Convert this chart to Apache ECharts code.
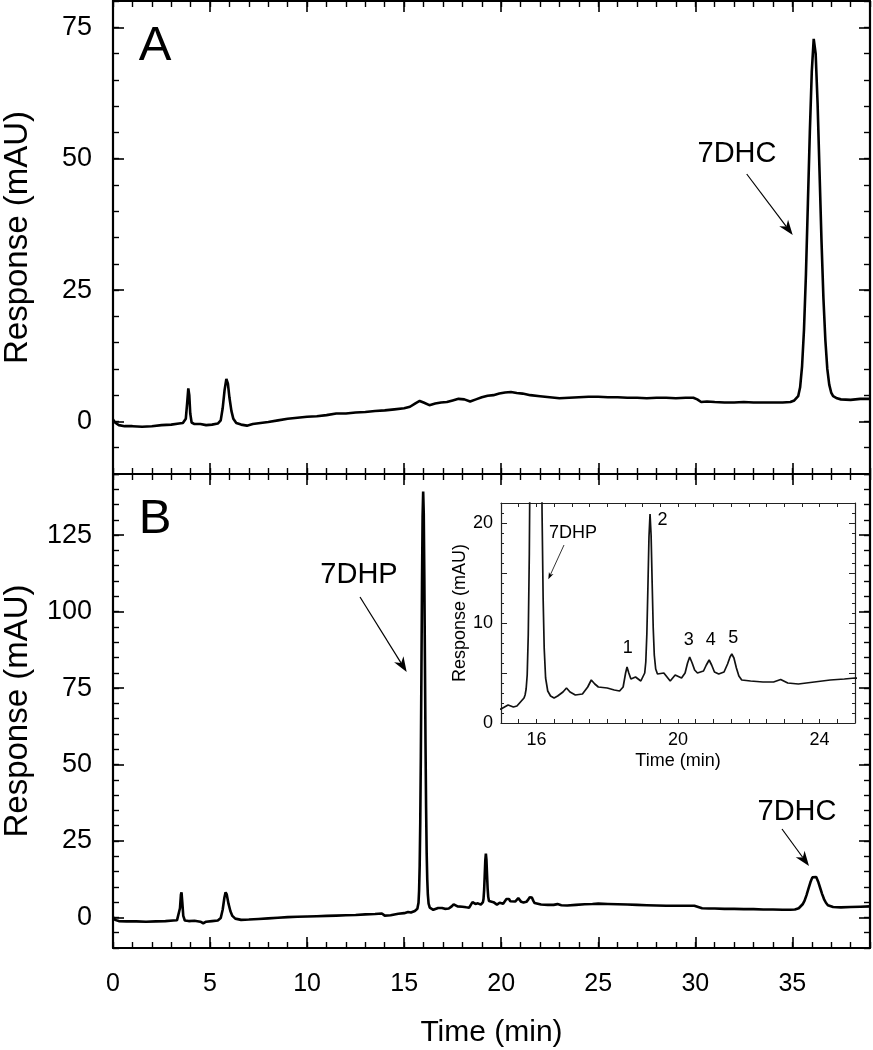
<!DOCTYPE html>
<html>
<head>
<meta charset="utf-8">
<script src="https://cdn.jsdelivr.net/npm/echarts@6/dist/echarts.min.js"></script>
<style>
html,body{margin:0;padding:0;background:#fff;}
#chart{width:873px;height:1050px;}
</style>
</head>
<body>
<div id="chart"></div>
<script>
// ---------------- DATA ----------------
// Panel A chromatogram: [time (min), response (mAU)]
const traceA = [
[0.0,0.4],[0.1,-0.2],[0.3,-0.7],[0.6,-0.9],[1.0,-0.9],[1.5,-1.0],[2.0,-0.9],[2.5,-0.7],[3.0,-0.6],[3.4,-0.4],
[3.6,-0.3],[3.75,0.5],[3.82,3.5],[3.88,6.3],[3.93,5.0],[3.98,1.5],[4.05,-0.2],[4.2,-0.5],[4.5,-0.5],[4.8,-0.7],
[5.1,-0.6],[5.4,-0.4],[5.55,0.2],[5.65,2.5],[5.75,6.0],[5.84,8.1],[5.92,7.2],[6.0,4.5],[6.1,2.0],[6.2,0.5],
[6.35,-0.3],[6.6,-0.6],[6.9,-0.8],[7.2,-0.5],[7.6,-0.3],[8.0,-0.1],[8.5,0.2],[9.0,0.5],[9.5,0.7],[10.0,0.9],
[10.5,1.0],[11.0,1.2],[11.5,1.5],[12.0,1.5],[12.5,1.7],[13.0,1.8],[13.5,2.0],[14.0,2.1],[14.5,2.3],[15.0,2.5],
[15.3,2.8],[15.6,3.5],[15.8,3.9],[16.0,3.6],[16.3,3.1],[16.6,3.4],[16.9,3.6],[17.2,3.7],[17.5,4.0],[17.8,4.3],
[18.1,4.2],[18.4,3.8],[18.7,4.2],[19.0,4.6],[19.3,4.9],[19.6,5.0],[19.9,5.3],[20.2,5.5],[20.5,5.6],[20.8,5.4],
[21.1,5.3],[21.5,5.0],[22.0,4.8],[22.5,4.6],[23.0,4.4],[23.5,4.5],[24.0,4.6],[24.5,4.7],[25.0,4.7],[25.5,4.6],
[26.0,4.6],[26.5,4.5],[27.0,4.5],[27.5,4.4],[28.0,4.5],[28.5,4.5],[29.0,4.4],[29.5,4.5],[29.9,4.5],[30.1,4.2],
[30.3,3.7],[30.6,3.8],[31.0,3.7],[31.5,3.6],[32.0,3.6],[32.5,3.7],[33.0,3.6],[33.5,3.6],[34.0,3.6],[34.5,3.6],
[34.9,3.7],[35.1,4.0],[35.3,4.8],[35.4,6.5],[35.5,10.5],[35.6,17.5],[35.7,28.0],[35.8,41.5],[35.9,55.0],[36.0,66.5],
[36.1,72.8],[36.2,70.0],[36.3,60.5],[36.4,47.5],[36.5,34.5],[36.6,23.5],[36.7,15.5],[36.8,10.0],[36.9,7.0],[37.0,5.5],
[37.1,4.8],[37.3,4.4],[37.5,4.2],[38.0,4.1],[38.5,4.3],[39.0,4.3]
];

// Panel B chromatogram: [time (min), response (mAU)]
const traceB = [
[0.0,0.1],[0.1,-0.8],[0.3,-1.2],[0.7,-1.3],[1.2,-1.3],[1.7,-1.4],[2.2,-1.3],[2.7,-1.2],[3.1,-1.0],[3.3,-0.9],
[3.4,-0.5],[3.45,3.0],[3.5,7.5],[3.53,8.2],[3.57,5.0],[3.62,0.5],[3.7,-1.0],[3.9,-1.2],[4.2,-1.1],[4.5,-1.4],
[4.65,-1.9],[4.8,-1.4],[5.1,-1.2],[5.4,-1.0],[5.55,-0.2],[5.65,2.5],[5.74,6.5],[5.8,8.2],[5.86,7.5],[5.95,4.5],
[6.05,2.0],[6.15,0.5],[6.3,-0.4],[6.6,-0.8],[7.0,-0.7],[7.5,-0.5],[8.0,-0.3],[8.5,-0.1],[9.0,0.1],[9.5,0.2],
[10.0,0.3],[10.5,0.4],[11.0,0.5],[11.5,0.6],[12.0,0.7],[12.5,0.8],[13.0,1.0],[13.5,1.1],[13.85,1.3],[14.0,0.6],
[14.3,0.7],[14.7,1.2],[15.0,1.4],[15.2,1.8],[15.35,1.6],[15.45,1.7],[15.55,2.1],[15.65,2.5],[15.68,2.8],[15.71,3.4],
[15.74,4.8],[15.77,8.8],[15.80,16.9],[15.83,31.2],[15.86,52.8],[15.89,80.5],[15.92,109],[15.95,131],[15.98,139.3],[16.01,132],
[16.04,111],[16.07,84],[16.10,57],[16.13,36],[16.16,21],[16.19,12.5],[16.22,7.5],[16.26,4.5],[16.32,3.2],[16.4,2.7],
[16.5,2.5],[16.6,2.7],[16.75,3.1],[16.85,3.5],[16.95,3.1],[17.1,2.8],[17.3,2.9],[17.45,3.6],[17.55,4.3],[17.65,3.9],
[17.75,3.6],[18.0,3.5],[18.2,3.3],[18.35,3.2],[18.45,3.6],[18.52,5.0],[18.56,5.6],[18.61,5.0],[18.67,4.4],[18.8,4.6],
[18.95,4.2],[19.06,5.0],[19.09,6.1],[19.12,8.9],[19.15,13.6],[19.18,18.6],[19.21,20.9],[19.24,18.8],[19.27,14.0],[19.30,9.5],
[19.33,6.8],[19.37,5.4],[19.42,4.9],[19.6,5.0],[19.78,4.2],[19.92,4.8],[20.1,4.5],[20.2,5.0],[20.27,6.0],[20.33,6.6],
[20.4,6.0],[20.47,5.3],[20.55,5.0],[20.72,5.2],[20.8,5.8],[20.88,6.3],[20.95,5.8],[21.03,5.1],[21.15,4.9],[21.3,5.1],
[21.4,5.9],[21.47,6.6],[21.52,6.9],[21.58,6.5],[21.65,5.5],[21.72,4.7],[21.8,4.3],[22.05,4.2],[22.4,4.1],[22.7,4.1],
[22.9,4.35],[23.1,4.0],[23.4,3.9],[23.85,4.1],[24.3,4.3],[24.7,4.4],[25.0,4.5],[25.5,4.4],[26.0,4.3],[26.5,4.2],
[27.0,4.1],[27.5,4.0],[28.0,3.9],[28.5,3.8],[29.0,3.8],[29.5,3.8],[29.95,3.8],[30.15,3.4],[30.35,3.0],[30.7,2.9],
[31.0,2.9],[31.5,2.8],[32.0,2.8],[32.5,2.7],[33.0,2.7],[33.5,2.6],[34.0,2.6],[34.5,2.5],[34.9,2.5],[35.13,2.6],
[35.33,3.0],[35.43,3.5],[35.53,4.3],[35.63,5.5],[35.73,7.3],[35.83,9.4],[35.93,11.5],[36.03,13.1],[36.13,13.7],[36.23,13.2],
[36.33,11.7],[36.43,9.7],[36.53,7.7],[36.63,6.0],[36.73,4.8],[36.83,4.0],[36.93,3.6],[37.1,3.4],[37.5,3.3],[38.0,3.4],
[38.5,3.5],[39.0,3.6]
];

// Axis ranges and tick labels
const timeRange = [0, 39];
const timeLabels = [0, 5, 10, 15, 20, 25, 30, 35];
const rangeA = [-10, 80];
const labelsA = [0, 25, 50, 75];
const rangeB = [-10, 145];
const labelsB = [0, 25, 50, 75, 100, 125];
const insetTimeRange = [15, 25];
const insetTimeLabels = [16, 20, 24];
const insetRange = [0, 22];
const insetLabels = [0, 10, 20];
const insetMajorTicks = [0, 5, 10, 15, 20];

// Annotation texts
const panelLetters = ['A', 'B'];
const peakNames = ['7DHC', '7DHP', '7DHC'];
const insetPeakName = '7DHP';
const insetPeakNumbers = ['1', '2', '3', '4', '5'];
const yTitle = 'Response (mAU)';
const xTitle = 'Time (min)';

// ---------------- LAYOUT / STYLE ----------------
const FONT = 'Liberation Sans, Arial, Helvetica, sans-serif';
const BLACK = '#000';

function showOnly(list) {
  return function (v) { return list.indexOf(Math.round(v * 1000) / 1000) >= 0 ? String(v) : ''; };
}

function mainX(gi, pos, withLabels) {
  const base = {
    type: 'value', gridIndex: gi, position: pos, min: timeRange[0], max: timeRange[1],
    splitLine: { show: false }
  };
  const minor = Object.assign({}, base, {
    interval: 1,
    axisLine: { show: true, onZero: false, lineStyle: { color: BLACK, width: 2.2 } },
    axisTick: { show: true, inside: true, length: 6, lineStyle: { color: BLACK, width: 1.4 } },
    axisLabel: withLabels ? { show: true, margin: 24, fontSize: 25, color: BLACK, fontFamily: FONT, formatter: showOnly(timeLabels) } : { show: false }
  });
  if (withLabels) {
    minor.name = xTitle; minor.nameLocation = 'middle'; minor.nameGap = 70;
    minor.nameTextStyle = { fontSize: 30, color: BLACK, fontFamily: FONT };
  }
  const major = Object.assign({}, base, {
    interval: 5,
    axisLine: { show: false, onZero: false },
    axisTick: { show: true, inside: true, length: 11, customValues: timeLabels, lineStyle: { color: BLACK, width: 1.6 } },
    axisLabel: { show: false }
  });
  return [minor, major];
}

function mainY(gi, pos, range, labels, withLabels) {
  const base = {
    type: 'value', gridIndex: gi, position: pos, min: range[0], max: range[1],
    splitLine: { show: false }
  };
  const minor = Object.assign({}, base, {
    interval: 5,
    axisLine: { show: true, onZero: false, lineStyle: { color: BLACK, width: 2.2 } },
    axisTick: { show: true, inside: true, length: 6, lineStyle: { color: BLACK, width: 1.4 } },
    axisLabel: withLabels ? { show: true, margin: 21, fontSize: 27, color: BLACK, fontFamily: FONT, formatter: showOnly(labels) } : { show: false }
  });
  if (withLabels) {
    minor.name = yTitle; minor.nameLocation = 'middle'; minor.nameGap = 79;
    minor.nameTextStyle = { fontSize: 33, color: BLACK, fontFamily: FONT };
  }
  const major = Object.assign({}, base, {
    interval: 25,
    axisLine: { show: false, onZero: false },
    axisTick: { show: true, inside: true, length: 11, customValues: labels, lineStyle: { color: BLACK, width: 1.6 } },
    axisLabel: { show: false }
  });
  return [minor, major];
}

const INSET_COLOR = '#222';
function insetX(pos, withLabels) {
  const ax = {
    type: 'value', gridIndex: 2, position: pos, min: insetTimeRange[0], max: insetTimeRange[1], interval: 1,
    splitLine: { show: false },
    axisLine: { show: true, onZero: false, lineStyle: { color: INSET_COLOR, width: 1.2 } },
    axisTick: { show: true, inside: true, length: 4, lineStyle: { color: INSET_COLOR, width: 1 } },
    minorTick: { show: true, splitNumber: 2, length: 4, lineStyle: { color: INSET_COLOR, width: 1 } },
    axisLabel: withLabels ? { show: true, margin: 8, fontSize: 18, color: BLACK, fontFamily: FONT, formatter: showOnly(insetTimeLabels) } : { show: false }
  };
  if (withLabels) {
    ax.name = xTitle; ax.nameLocation = 'middle'; ax.nameGap = 29;
    ax.nameTextStyle = { fontSize: 18, color: BLACK, fontFamily: FONT };
  }
  return ax;
}
function insetY(pos, withLabels) {
  const minor = {
    type: 'value', gridIndex: 2, position: pos, min: insetRange[0], max: insetRange[1], interval: 1,
    splitLine: { show: false },
    axisLine: { show: true, onZero: false, lineStyle: { color: INSET_COLOR, width: 1.2 } },
    axisTick: { show: true, inside: true, length: 3, lineStyle: { color: INSET_COLOR, width: 1 } },
    axisLabel: withLabels ? { show: true, margin: 8, fontSize: 18, color: BLACK, fontFamily: FONT, formatter: showOnly(insetLabels) } : { show: false }
  };
  if (withLabels) {
    minor.name = yTitle; minor.nameLocation = 'middle'; minor.nameGap = 32;
    minor.nameTextStyle = { fontSize: 18, color: BLACK, fontFamily: FONT };
  }
  const major = {
    type: 'value', gridIndex: 2, position: pos, min: insetRange[0], max: insetRange[1], interval: 5,
    splitLine: { show: false },
    axisLine: { show: false, onZero: false },
    axisTick: { show: true, inside: true, length: 6, customValues: insetMajorTicks, lineStyle: { color: INSET_COLOR, width: 1 } },
    axisLabel: { show: false }
  };
  return [minor, major];
}

const xAxes = [].concat(
  mainX(0, 'bottom', false),   // 0,1
  mainX(0, 'top', false),      // 2,3
  mainX(1, 'bottom', true),    // 4,5
  mainX(1, 'top', false),      // 6,7
  [insetX('bottom', true)],    // 8
  [insetX('top', false)]       // 9
);
const yAxes = [].concat(
  mainY(0, 'left', rangeA, labelsA, true),    // 0,1
  mainY(0, 'right', rangeA, labelsA, false),  // 2,3
  mainY(1, 'left', rangeB, labelsB, true),    // 4,5
  mainY(1, 'right', rangeB, labelsB, false),  // 6,7
  insetY('left', true),                       // 8,9
  insetY('right', false)                      // 10,11
);

// arrow graphic helper (pixel layout for annotation arrows)
function arrow(x1, y1, x2, y2, headLen, headW, lw) {
  const dx = x2 - x1, dy = y2 - y1, L = Math.sqrt(dx * dx + dy * dy);
  const ux = dx / L, uy = dy / L, px = -uy, py = ux;
  const bx = x2 - ux * headLen, by = y2 - uy * headLen;
  const nx = x2 - ux * headLen * 0.7, ny = y2 - uy * headLen * 0.7;
  return [
    { type: 'line', shape: { x1: x1, y1: y1, x2: nx, y2: ny }, style: { stroke: BLACK, lineWidth: lw } },
    { type: 'polygon', shape: { points: [[x2, y2], [bx + px * headW / 2, by + py * headW / 2], [nx, ny], [bx - px * headW / 2, by - py * headW / 2]] },
      style: { fill: BLACK } }
  ];
}
function txt(s, x, y, size) {
  return { type: 'text', x: x, y: y, style: { text: s, fill: BLACK, font: size + 'px ' + FONT, textAlign: 'center', textVerticalAlign: 'middle' } };
}

const graphics = [].concat(
  [txt(panelLetters[0], 155, 46, 49), txt(panelLetters[1], 155, 519, 49)],
  [txt(peakNames[0], 737, 154, 29)], arrow(746.7, 174, 792.7, 235, 15, 11, 1.2),
  [txt(peakNames[1], 359, 575, 29)], arrow(360, 597, 406.7, 672, 15, 11, 1.2),
  [txt(peakNames[2], 797, 812, 29)], arrow(782, 829, 809, 866, 15, 11, 1.2),
  [txt(insetPeakName, 573, 533, 18)], arrow(564, 545, 548.3, 579.3, 7, 5, 0.8),
  [txt(insetPeakNumbers[0], 627.7, 648, 18), txt(insetPeakNumbers[1], 662.5, 520, 18),
   txt(insetPeakNumbers[2], 688.7, 640, 18), txt(insetPeakNumbers[3], 710.7, 640, 18),
   txt(insetPeakNumbers[4], 733.3, 638.5, 18)]
);

const chart = echarts.init(document.getElementById('chart'), null, { renderer: 'canvas' });
chart.setOption({
  animation: false,
  backgroundColor: '#fff',
  grid: [
    { left: 113, top: 1, right: 3, height: 473, containLabel: false, outerBoundsMode: 'none' },
    { left: 113, top: 474, right: 3, height: 474, containLabel: false, outerBoundsMode: 'none' },
    { left: 501, top: 503, width: 354, height: 220, containLabel: false, outerBoundsMode: 'none' }
  ],
  xAxis: xAxes,
  yAxis: yAxes,
  series: [
    { type: 'line', xAxisIndex: 0, yAxisIndex: 0, data: traceA, showSymbol: false, symbol: 'none',
      lineStyle: { color: BLACK, width: 2.6 }, clip: true },
    { type: 'line', xAxisIndex: 4, yAxisIndex: 4, data: traceB, showSymbol: false, symbol: 'none',
      lineStyle: { color: BLACK, width: 2.6 }, clip: true },
    { type: 'line', xAxisIndex: 8, yAxisIndex: 8, data: traceB, showSymbol: false, symbol: 'none',
      lineStyle: { color: '#111', width: 1.7 }, clip: true }
  ],
  graphic: graphics
});
</script>
</body>
</html>
